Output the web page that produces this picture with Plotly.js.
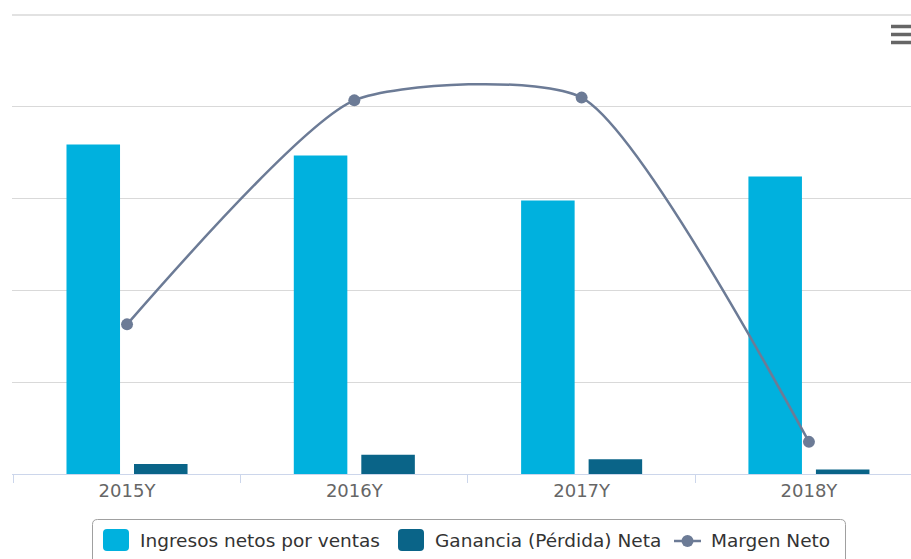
<!DOCTYPE html>
<html>
<head>
<meta charset="utf-8">
<script src="https://cdn.plot.ly/plotly-3.0.1.min.js"></script>
<style>
html,body{margin:0;padding:0;background:#fff;}
#chart{width:911px;height:559px;}
</style>
</head>
<body>
<div id="chart"></div>
<script>
// Data
const categories = ["2015Y", "2016Y", "2017Y", "2018Y"];
const ingresos = [3.59, 3.47, 2.98, 3.24];
const ganancia = [0.11, 0.21, 0.16, 0.05];
const margen = [1.63, 4.07, 4.10, 0.35];
const seriesNames = ["Ingresos netos por ventas", "Ganancia (Pérdida) Neta", "Margen Neto"];
const seriesColors = ["#00b1de", "#0a6488", "#6c7b96"];

const W = 911, H = 559;
const M = {l: 12, r: 0, t: 15, b: 85};
const pw = W - M.l - M.r, ph = H - M.t - M.b;
function px(x){ return (x - M.l) / pw; }
function py(y){ return (H - M.b - y) / ph; }

const traces = [
  {
    type: "bar", name: seriesNames[0],
    x: categories, y: ingresos,
    marker: {color: seriesColors[0]},
    hoverinfo: "x+y"
  },
  {
    type: "bar", name: seriesNames[1],
    x: categories, y: ganancia,
    marker: {color: seriesColors[1]},
    hoverinfo: "x+y"
  },
  {
    type: "scatter", mode: "lines+markers", name: seriesNames[2],
    x: categories, y: margen, yaxis: "y2",
    line: {color: seriesColors[2], width: 2.5, shape: "spline", smoothing: 0.6},
    marker: {color: seriesColors[2], size: 12},
    hoverinfo: "x+y"
  }
];

// rounded rectangle path in paper coords from pixel box
function roundRect(x0, y0, x1, y1, r){
  const X = v => px(v), Y = v => py(v);
  return "M" + X(x0 + r) + "," + Y(y0) +
    " L" + X(x1 - r) + "," + Y(y0) +
    " Q" + X(x1) + "," + Y(y0) + " " + X(x1) + "," + Y(y0 + r) +
    " L" + X(x1) + "," + Y(y1 - r) +
    " Q" + X(x1) + "," + Y(y1) + " " + X(x1 - r) + "," + Y(y1) +
    " L" + X(x0 + r) + "," + Y(y1) +
    " Q" + X(x0) + "," + Y(y1) + " " + X(x0) + "," + Y(y1 - r) +
    " L" + X(x0) + "," + Y(y0 + r) +
    " Q" + X(x0) + "," + Y(y0) + " " + X(x0 + r) + "," + Y(y0) + " Z";
}

const shapes = [];
// top gridline (drawn unclipped at the plot's top edge)
shapes.push({type: "line", xref: "paper", yref: "paper", x0: 0, x1: 1, y0: 1, y1: 1,
  line: {color: "#d9d9d9", width: 1.5}, layer: "below"});
// menu icon
[26.5, 34.5, 42.5].forEach(yy => shapes.push({
  type: "line", xref: "paper", yref: "paper",
  x0: px(891), x1: px(911), y0: py(yy), y1: py(yy),
  line: {color: "#666666", width: 3.5}
}));
// custom legend box
shapes.push({type: "path", xref: "paper", yref: "paper",
  path: roundRect(92.5, 519.5, 845.5, 575, 5),
  line: {color: "#a0a0a0", width: 1}, fillcolor: "rgba(0,0,0,0)"});
// legend symbols
shapes.push({type: "path", xref: "paper", yref: "paper",
  path: roundRect(103, 529, 129, 551, 4), line: {width: 0}, fillcolor: seriesColors[0]});
shapes.push({type: "path", xref: "paper", yref: "paper",
  path: roundRect(398, 529, 424, 551, 4), line: {width: 0}, fillcolor: seriesColors[1]});
shapes.push({type: "line", xref: "paper", yref: "paper",
  x0: px(674), x1: px(701), y0: py(541), y1: py(541),
  line: {color: seriesColors[2], width: 2.5}});
shapes.push({type: "circle", xref: "paper", yref: "paper",
  x0: px(681.5), x1: px(693.5), y0: py(547), y1: py(535),
  line: {width: 0}, fillcolor: seriesColors[2]});

const legendTextX = [138, 433, 709];
const annotations = seriesNames.map((n, i) => ({
  text: n, xref: "paper", yref: "paper",
  x: px(legendTextX[i]), y: py(540.5), xanchor: "left", yanchor: "middle",
  showarrow: false,
  font: {size: 18.5, color: "#333333", family: "DejaVu Sans, Verdana, sans-serif"}
}));

const layout = {
  width: W, height: H,
  margin: M,
  paper_bgcolor: "#ffffff",
  plot_bgcolor: "#ffffff",
  font: {family: "DejaVu Sans, Verdana, sans-serif", color: "#333333"},
  barmode: "group",
  bargap: 0.406,
  bargroupgap: 0.207,
  showlegend: false,
  xaxis: {
    type: "category",
    range: [-0.506, 3.449],
    showgrid: false,
    showline: true, linecolor: "#ccd6eb", linewidth: 1,
    ticks: "outside", tickson: "boundaries", ticklen: 8, tickcolor: "#ccd6eb",
    tickfont: {size: 18, color: "#666666"},
    fixedrange: true
  },
  yaxis: {
    range: [0, 5], dtick: 1,
    showgrid: true, gridcolor: "#d9d9d9", gridwidth: 1,
    showticklabels: false, zeroline: false, showline: false,
    fixedrange: true
  },
  yaxis2: {
    overlaying: "y", side: "right",
    range: [0, 5],
    showgrid: false, showticklabels: false, zeroline: false, showline: false,
    fixedrange: true
  },
  shapes: shapes,
  annotations: annotations
};

Plotly.newPlot("chart", traces, layout, {displayModeBar: false, responsive: false});
</script>
</body>
</html>
